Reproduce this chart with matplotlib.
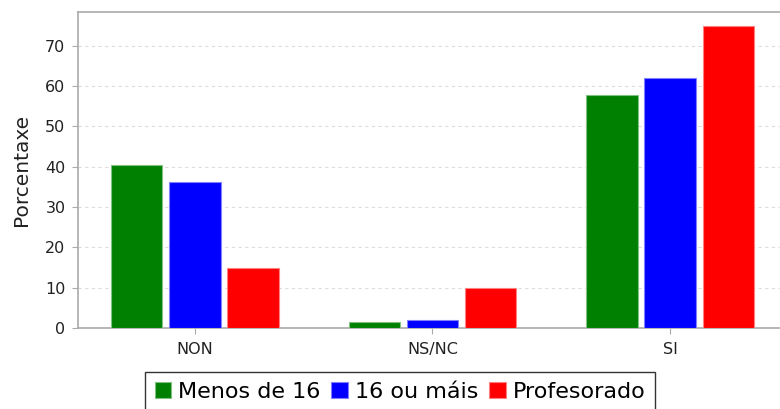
import matplotlib

matplotlib.use("Agg")
import matplotlib.pyplot as plt
import numpy as np

categories = ["NON", "NS/NC", "SI"]
series_names = ["Menos de 16", "16 ou máis", "Profesorado"]
menos_16 = [40.4, 1.5, 57.8]
ou_mais_16 = [36.2, 1.9, 62.0]
profesorado = [14.9, 9.9, 74.9]
yticks = [0, 10, 20, 30, 40, 50, 60, 70]

colors = ["#008000", "#0000ff", "#ff0000"]
edges = ["#80c080", "#8080ff", "#ff8080"]

fig = plt.figure(figsize=(7.8, 4.09), dpi=100)
ax = fig.add_axes([78 / 780, 1 - 328 / 409, (787 - 78) / 780, (328 - 12) / 409])

x = np.arange(len(categories))
width = 0.218
step = 0.244
for i, (vals, name) in enumerate(zip([menos_16, ou_mais_16, profesorado], series_names)):
    ax.bar(x + (i - 1) * step, vals, width, color=colors[i], edgecolor=edges[i],
           linewidth=0.8, label=name, zorder=3)

ax.set_xlim(-0.49, 2.49)
ax.set_ylim(0, 78.4)
ax.set_yticks(yticks)
ax.set_xticks(x)
ax.set_xticklabels(categories)
ax.tick_params(axis="both", labelsize=11.5, colors="#aaaaaa", labelcolor="#222222",
               length=4, width=0.8)
ax.tick_params(axis="x", pad=6)
ax.tick_params(axis="y", pad=5)
ax.yaxis.grid(True, linestyle=(0, (3, 3)), color="#dddddd", linewidth=0.8, zorder=0)
ax.set_ylabel("Porcentaxe", fontsize=14.5, color="#222222")
ax.yaxis.set_label_coords((31 - 78) / 709, 0.5)
for side in ["left", "bottom", "top"]:
    ax.spines[side].set_color("#aaaaaa")
    ax.spines[side].set_linewidth(1.2)
ax.spines["right"].set_visible(False)

leg = fig.legend(loc="center", bbox_to_anchor=(400 / 780, 1 - 392 / 409), ncol=3,
                 fontsize=16, frameon=True, fancybox=False, handlelength=0.75,
                 handleheight=0.75, handletextpad=0.3, columnspacing=0.5,
                 borderpad=0.45, borderaxespad=0)
leg.get_frame().set_edgecolor("black")
leg.get_frame().set_linewidth(1.0)

fig.savefig("out.png", dpi=100)
